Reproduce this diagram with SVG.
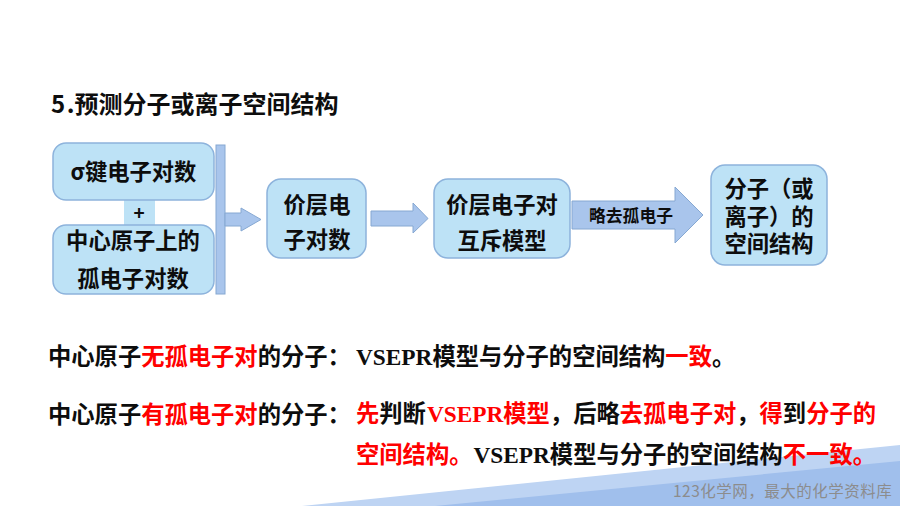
<svg xmlns="http://www.w3.org/2000/svg" width="900" height="506" viewBox="0 0 900 506">
<style>
text{font-family:"Noto Sans CJK SC","Liberation Sans",sans-serif;font-weight:700;fill:#0d0d0d}
.box{fill:#bde2f6;stroke:#8db3dc;stroke-width:1.500}
.arrow{fill:#a9c5ec;stroke:#86a8d2;stroke-width:1}
.n{font-size:22.300px;text-anchor:middle}
.l{font-size:23.300px}
.r{fill:#ff0000}
.v{font-family:"Liberation Serif",serif}
</style>
<rect width="900" height="506" fill="#ffffff"/>
<g id="background">
<polygon points="302,506 900,445 900,506" fill="#bed4f3"/>
<polygon points="435,506 900,461 900,506" fill="#a0bfec"/>
</g>
<text id="title" x="51" y="113" font-size="24"><tspan letter-spacing="1.500">5.</tspan><tspan x="74.500">预测分子或离子空间结构</tspan></text>
<g id="connectors">
<rect class="arrow" x="216" y="145" width="9" height="149"/>
<polygon class="arrow" points="225,213 241,213 241,208 261,219.500 241,231 241,226 225,226"/>
<polygon class="arrow" points="371,211 413,211 413,203 428,218.500 413,233 413,226 371,226"/>
<polygon class="arrow" points="572,201 675,201 675,187 703,215 675,243 675,229 572,229"/>
</g>
<g id="node-plus">
<rect x="124" y="199" width="31" height="27" fill="#bde2f6"/>
<text x="139" y="220" font-size="19" text-anchor="middle">+</text>
</g>
<g id="node-sigma">
<rect class="box" x="53" y="143" width="161" height="57" rx="13"/>
<text class="n" x="133.500" y="179.500">σ键电子对数</text>
</g>
<g id="node-lone">
<rect class="box" x="53" y="225" width="161" height="69" rx="13"/>
<text class="n" x="133" y="249">中心原子上的</text>
<text class="n" x="133" y="287">孤电子对数</text>
</g>
<g id="node-valence">
<rect class="box" x="267" y="179" width="99" height="79" rx="14"/>
<text class="n" x="317" y="213">价层电</text>
<text class="n" x="317" y="248">子对数</text>
</g>
<g id="node-model">
<rect class="box" x="434" y="179" width="136" height="79" rx="14"/>
<text class="n" x="502" y="213">价层电子对</text>
<text class="n" x="502" y="249">互斥模型</text>
</g>
<text id="arrow-label" x="631" y="222" font-size="16.800" text-anchor="middle">略去孤电子</text>
<g id="node-structure">
<rect class="box" x="711" y="165" width="116" height="100" rx="14"/>
<text class="n" x="769" y="197">分子（或</text>
<text class="n" x="769" y="224.500">离子）的</text>
<text class="n" x="769" y="252">空间结构</text>
</g>
<g id="text-lines">
<text class="l" x="48" y="365">中心原子<tspan class="r">无孤电子对</tspan>的分子：</text>
<text class="l" x="356" y="365"><tspan class="v">VSEPR</tspan>模型与分子的空间结构<tspan class="r">一致</tspan>。</text>
<text class="l" x="48" y="423">中心原子<tspan class="r">有孤电子对</tspan>的分子：</text>
<text class="l" x="356" y="422"><tspan class="r">先</tspan>判断<tspan class="v r" dx="1">VSEPR</tspan><tspan class="r">模型</tspan>，后略<tspan class="r">去孤电子对</tspan>，<tspan class="r">得</tspan>到<tspan class="r">分子的</tspan></text>
<text class="l" x="356" y="463"><tspan class="r">空间结构。</tspan><tspan class="v" dx="1">VSEPR</tspan>模型与分子的空间结构<tspan class="r">不一致。</tspan></text>
</g>
<text id="watermark" x="673" y="497" font-size="15.500" style="font-weight:400;fill:#8c8c8c;letter-spacing:0.500px">123化学网，最大的化学资料库</text>
</svg>
